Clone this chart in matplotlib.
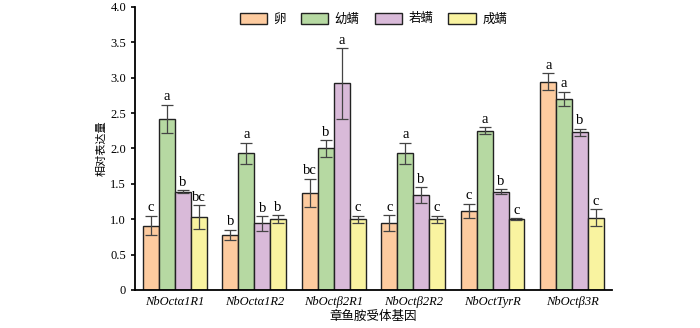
import numpy as np
import matplotlib
matplotlib.use('Agg')
import matplotlib.pyplot as plt

genes = ['NbOctα1R1', 'NbOctα1R2', 'NbOctβ2R1', 'NbOctβ2R2', 'NbOctTyrR', 'NbOctβ3R']
stages = ['卵', '幼螨', '若螨', '成螨']
colors = ['#FDCB9F', '#B6D9A2', '#D9BAD9', '#F9F3A0']

egg = [0.91, 0.78, 1.37, 0.95, 1.12, 2.94]
larva = [2.42, 1.93, 2.00, 1.93, 2.25, 2.70]
nymph = [1.39, 0.94, 2.92, 1.34, 1.39, 2.23]
adult = [1.03, 1.00, 1.00, 1.00, 1.00, 1.02]

egg_err = [0.14, 0.07, 0.20, 0.11, 0.10, 0.12]
larva_err = [0.20, 0.15, 0.12, 0.15, 0.05, 0.10]
nymph_err = [0.02, 0.10, 0.50, 0.11, 0.03, 0.05]
adult_err = [0.17, 0.06, 0.05, 0.05, 0.01, 0.12]

egg_sig = ['c', 'b', 'bc', 'c', 'c', 'a']
larva_sig = ['a', 'a', 'b', 'a', 'a', 'a']
nymph_sig = ['b', 'b', 'a', 'b', 'b', 'b']
adult_sig = ['bc', 'b', 'c', 'c', 'c', 'c']

values = [egg, larva, nymph, adult]
errors = [egg_err, larva_err, nymph_err, adult_err]
sigs = [egg_sig, larva_sig, nymph_sig, adult_sig]

plt.rcParams['font.family'] = ['Noto Sans CJK SC', 'DejaVu Sans']
serif = 'Liberation Serif'

fig = plt.figure(figsize=(7, 3.28), dpi=100)
ax = fig.add_axes([0.193, 0.116, 0.681, 0.863])

x = np.arange(len(genes))
w = 0.2
for k in range(4):
    pos = x + (k - 1.5) * w
    ax.bar(pos, values[k], w, color=colors[k], edgecolor='#222222', linewidth=1.0,
           label=stages[k], zorder=2)
    ax.errorbar(pos, values[k], yerr=errors[k], fmt='none', ecolor='#444444',
                elinewidth=0.9, capsize=4, capthick=0.9, zorder=3)
    for p, v, e, s in zip(pos, values[k], errors[k], sigs[k]):
        ax.text(p, v + e + 0.02, s, ha='center', va='bottom', fontsize=10.5,
                family=serif)

ax.set_xlim(-0.5, 5.5)
ax.set_ylim(0, 4.0)
ax.set_yticks(np.arange(0, 4.01, 0.5))
ax.set_yticklabels(['0'] + ['%.1f' % v for v in np.arange(0.5, 4.01, 0.5)],
                   family=serif, fontsize=9)
ax.set_xticks(x)
ax.set_xticklabels(genes, family=serif, style='italic', fontsize=9)
ax.tick_params(axis='x', length=0, pad=4)
ax.tick_params(axis='y', direction='out', length=3, width=1.2)
for s in ['top', 'right']:
    ax.spines[s].set_visible(False)
ax.spines['left'].set_linewidth(1.3)
ax.spines['bottom'].set_linewidth(1.3)

ax.set_ylabel('相对表达量', fontsize=8, labelpad=3)
ax.set_xlabel('章鱼胺受体基因', fontsize=9, labelpad=2)

ax.legend(loc='upper center', bbox_to_anchor=(0.5, 1.02), ncol=4, frameon=False,
          fontsize=9, handlelength=2.2, handleheight=1.0, columnspacing=1.2,
          handletextpad=0.5)

fig.savefig('out.png', dpi=100)
